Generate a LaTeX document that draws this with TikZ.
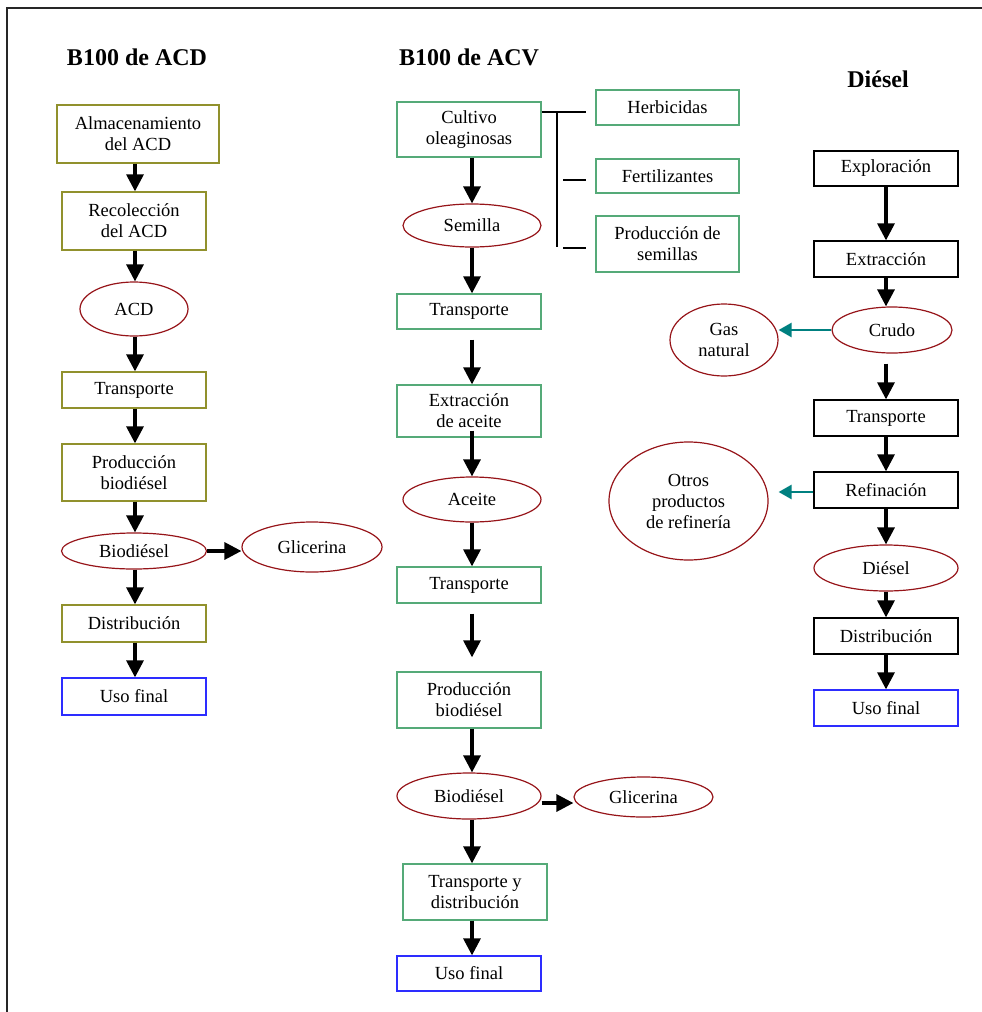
\documentclass[tikz,border=0pt]{standalone}
\usepackage{fontspec}
\setmainfont{Liberation Serif}
\usetikzlibrary{shapes.geometric,arrows.meta}
\definecolor{olv}{RGB}{145,145,45}
\definecolor{grn}{RGB}{85,170,120}
\definecolor{blu}{RGB}{45,45,255}
\definecolor{drd}{RGB}{150,20,25}
\definecolor{tel}{RGB}{0,128,128}
\begin{document}
\begin{tikzpicture}[x=1pt,y=-1pt,
  font=\fontsize{18.5}{21}\selectfont,
  head/.style={font=\fontsize{24}{28}\selectfont\bfseries},
  basebox/.style={rectangle,line width=1.3pt,align=center,inner sep=0pt},
  obox/.style={basebox,draw=olv},
  gbox/.style={basebox,draw=grn},
  kbox/.style={basebox,draw=black},
  ubox/.style={basebox,draw=blu},
  oval/.style={ellipse,draw=drd,line width=1.2pt,align=center,inner sep=0pt},
  arr/.style={line width=3.2pt,-{Triangle[length=17pt,width=17pt]}},
  tarr/.style={draw=tel,line width=2.6pt,-{Triangle[length=13pt,width=14pt,fill=tel]}},
  brk/.style={line width=1.1pt}]
\useasboundingbox (0,0) rectangle (982,1012);
\draw[line width=2.2pt,black!85] (7,1012) -- (7,8) -- (982,8);

% headings
\node[head] (h1) at (137,57) {B100 de ACD};
\node[head] (h2) at (469,57) {B100 de ACV};
\node[head] (h3) at (878,79) {Diésel};

% column axes
\coordinate (ax1) at (135,0);
\coordinate (ax2) at (472,0);
\coordinate (ax3) at (886,0);

% ---------- column 1 ----------
\node[obox,minimum width=162,minimum height=58] (a1) at (138,134) {Almacenamiento\\del ACD};
\node[obox,minimum width=144,minimum height=58] (a2) at (134,221) {Recolección\\del ACD};
\node[oval,minimum width=108,minimum height=54] (a3) at (134,309) {ACD};
\node[obox,minimum width=144,minimum height=36] (a4) at (134,390) {Transporte};
\node[obox,minimum width=144,minimum height=57] (a5) at (134,472.5) {Producción\\biodiésel};
\node[oval,minimum width=145,minimum height=36] (a6) at (134,551) {\raisebox{-3pt}{Biodiésel}};
\node[oval,minimum width=140,minimum height=50] (a7) at (312,547) {Glicerina};
\node[obox,minimum width=144,minimum height=37] (a8) at (134,623.5) {Distribución};
\node[ubox,minimum width=144,minimum height=37] (a9) at (134,696.5) {Uso final};

\draw[arr] (a1.south -| ax1) -- (a2.north -| ax1);
\draw[arr] (a2.south -| ax1) -- (a3.north -| ax1);
\draw[arr] (a3.south -| ax1) -- (a4.north -| ax1);
\draw[arr] (a4.south -| ax1) -- (a5.north -| ax1);
\draw[arr] (a5.south -| ax1) -- (a6.north -| ax1);
\draw[arr] (a6.east) -- (a6.east -| a7.west);
\draw[arr] (a6.south -| ax1) -- (a8.north -| ax1);
\draw[arr] (a8.south -| ax1) -- (a9.north -| ax1);

% ---------- column 2 ----------
\node[gbox,minimum width=144,minimum height=55] (cu) at (469,129.5) {Cultivo\\oleaginosas};
\node[oval,minimum width=138,minimum height=43] (se) at (472,225.5) {Semilla};
\node[gbox,minimum width=143,minimum height=35] (he) at (667.5,107.5) {Herbicidas};
\node[gbox,minimum width=143,minimum height=34] (fe) at (667.5,176) {Fertilizantes};
\node[gbox,minimum width=143,minimum height=56] (ps) at (667.5,244) {Producción de\\semillas};
\node[gbox,minimum width=144,minimum height=35] (t1) at (469,311.5) {Transporte};
\node[gbox,minimum width=144,minimum height=52] (ex) at (469,411) {Extracción\\de aceite};
\node[oval,minimum width=138,minimum height=45] (ac) at (472,499.5) {Aceite};
\node[gbox,minimum width=144,minimum height=36] (t2) at (469,585) {Transporte};
\node[gbox,minimum width=144,minimum height=56] (pb) at (469,700) {Producción\\biodiésel};
\node[oval,minimum width=144,minimum height=46] (bd) at (469,796) {Biodiésel};
\node[oval,minimum width=139,minimum height=40] (gl) at (643.5,797) {Glicerina};
\node[gbox,minimum width=144,minimum height=56] (td) at (475,892) {Transporte y\\distribución};
\node[ubox,minimum width=144,minimum height=35] (u2) at (469,973.5) {Uso final};

% bracket of inputs
\coordinate (bt) at (557,112);
\coordinate (bb) at (557,247);
\coordinate (d1) at (563,180);
\coordinate (d2) at (563,248);
\draw[brk] (cu.east |- bt) -- ([xshift=-9pt]he.west |- bt);
\draw[brk] (bt) -- (bb);
\draw[brk] (d1) -- ([xshift=-9pt]fe.west |- d1);
\draw[brk] (d2) -- ([xshift=-9pt]ps.west |- d2);

\draw[arr] (cu.south -| ax2) -- (se.north -| ax2);
\draw[arr] (se.south -| ax2) -- (t1.north -| ax2);
\draw[arr,shorten <=10pt] (t1.south -| ax2) -- (ex.north -| ax2);
\draw[arr,shorten <=-7pt] (ex.south -| ax2) -- (ac.north -| ax2);
\draw[arr] (ac.south -| ax2) -- (t2.north -| ax2);
\draw[arr,shorten <=10pt,shorten >=14pt] (t2.south -| ax2) -- (pb.north -| ax2);
\draw[arr] (pb.south -| ax2) -- (bd.north -| ax2);
\draw[arr] ([yshift=-7pt]bd.east) -- ([yshift=-7pt]bd.east -| gl.west);
\draw[arr] (bd.south -| ax2) -- (td.north -| ax2);
\draw[arr] (td.south -| ax2) -- (u2.north -| ax2);

% ---------- column 3 ----------
\node[kbox,minimum width=144,minimum height=35] (xp) at (886,168.5) {Exploración};
\node[kbox,minimum width=144,minimum height=36] (xt) at (886,259) {Extracción};
\node[oval,minimum width=120,minimum height=46] (cr) at (892,330) {Crudo};
\node[oval,minimum width=108,minimum height=72] (gn) at (724,340) {Gas\\natural};
\node[kbox,minimum width=144,minimum height=36] (tr) at (886,418) {Transporte};
\node[kbox,minimum width=144,minimum height=36] (rf) at (886,490) {Refinación};
\node[oval,minimum width=159,minimum height=118] (ot) at (688.5,501) {Otros\\productos\\de refinería};
\node[oval,minimum width=144,minimum height=46] (di) at (886,568) {Diésel};
\node[kbox,minimum width=144,minimum height=36] (ds) at (886,636) {Distribución};
\node[ubox,minimum width=144,minimum height=36] (u3) at (886,708) {Uso final};

\draw[arr] (xp.south -| ax3) -- (xt.north -| ax3);
\draw[arr] (xt.south -| ax3) -- (cr.north -| ax3);
\draw[tarr] (cr.west) -- (cr.west -| gn.east);
\draw[arr,shorten <=10pt] (cr.south -| ax3) -- (tr.north -| ax3);
\draw[arr] (tr.south -| ax3) -- (rf.north -| ax3);
\draw[tarr,shorten >=10pt] ([yshift=-2pt]rf.west) -- ([yshift=-2pt]rf.west -| ot.east);
\draw[arr] (rf.south -| ax3) -- (di.north -| ax3);
\draw[arr] (di.south -| ax3) -- (ds.north -| ax3);
\draw[arr] (ds.south -| ax3) -- (u3.north -| ax3);
\end{tikzpicture}
\end{document}
